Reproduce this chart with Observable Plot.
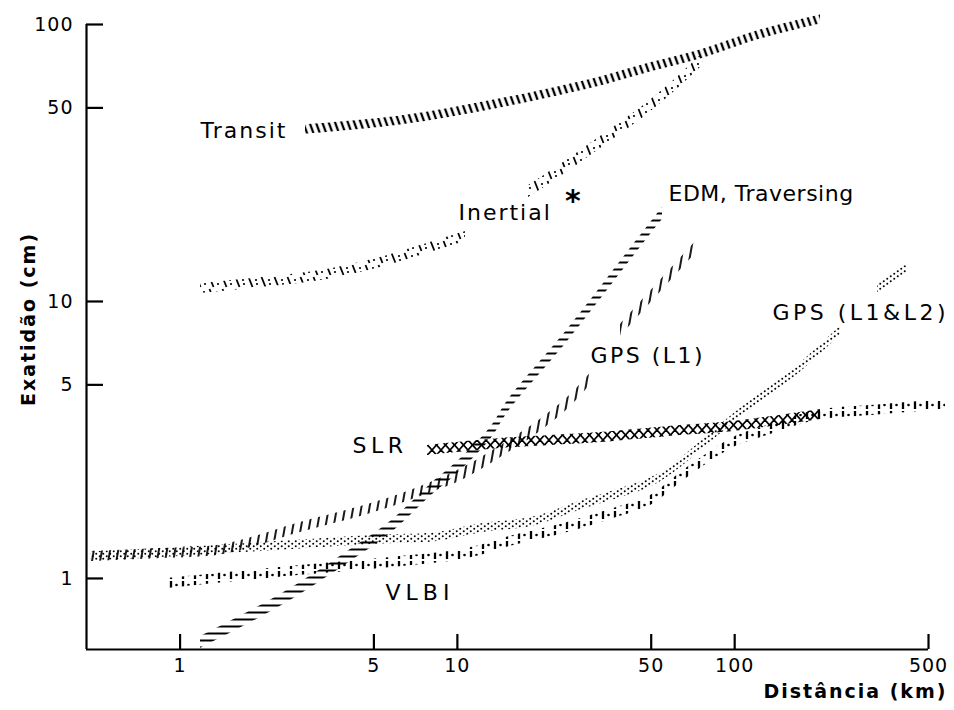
<!DOCTYPE html>
<html>
<head>
<meta charset="utf-8">
<script src="https://cdn.jsdelivr.net/npm/d3@7"></script>
<script src="https://cdn.jsdelivr.net/npm/@observablehq/plot@0.6"></script>
<style>
  body { margin: 0; background: #fff; }
  #chart svg text { letter-spacing: 1px; }
</style>
</head>
<body>
<div id="chart"></div>
<script>
// ---- axes ----
const xDomain = [0.4598, 585.4];
const yDomain = [0.554, 100];
const xTicks = [1, 5, 10, 50, 100, 500];
const yTicks = [1, 5, 10, 50, 100];

// ---- bands: distance (km), lower / upper accuracy (cm) ----
const transitDist = [2.833, 6.234, 14.30, 32.81, 49.71, 75.28, 123.9, 203.9];
const transitLo   = [40.2, 43.4, 50.0, 60.0, 67.4, 75.0, 88.6, 100.5];
const transitHi   = [43.4, 46.7, 53.9, 64.7, 72.7, 80.9, 95.5, 108.3];

const inertialDist = [1.185, 1.950, 3.209, 5.281, 7.360, 10.70, 17.89, 23.54, 32.81, 48.47, 63.75, 77.18];
const inertialLo   = [10.69, 11.23, 11.91, 13.27, 14.66, 16.47, 23.55, 28.26, 35.7, 47.4, 59.8, 71.7];
const inertialHi   = [11.61, 12.21, 12.94, 14.42, 15.93, 17.90, 26.0, 31.2, 39.4, 52.3, 66.0, 79.2];
const inertialSeg  = [0, 0, 0, 0, 0, 0, 1, 1, 1, 1, 1, 1];

const edmDist = [1.185, 2.302, 4.117, 5.737, 8.000, 10.01, 13.16, 15.29, 24.95, 43.16, 54.91];
const edmLo   = [0.559, 0.793, 1.152, 1.454, 1.979, 2.393, 3.176, 4.006, 7.174, 14.54, 19.79];
const edmHi   = [0.617, 0.875, 1.273, 1.606, 2.186, 2.643, 3.508, 4.425, 7.925, 16.06, 21.86];

const gpsL1Dist = [0.4598, 0.850, 1.434, 2.718, 4.984, 7.546, 10.52, 15.94, 19.45, 24.95, 30.96, 38.74, 48.47, 73.42];
const gpsL1Lo   = [1.151, 1.181, 1.221, 1.466, 1.727, 1.995, 2.277, 2.923, 3.340, 4.072, 5.138, 7.479, 9.59, 15.16];
const gpsL1Hi   = [1.251, 1.283, 1.327, 1.593, 1.876, 2.168, 2.515, 3.229, 3.689, 4.498, 5.675, 8.261, 10.59, 16.74];
const gpsL1Seg  = [0, 0, 0, 0, 0, 0, 0, 0, 0, 0, 0, 1, 1, 1];

const gpsL12Dist = [0.4752, 1.434, 2.718, 5.281, 8.203, 12.12, 18.81, 27.79, 49.71, 60.15, 99.0, 172.7, 240.7, 327.3, 420.1];
const gpsL12Lo   = [1.156, 1.226, 1.278, 1.332, 1.355, 1.460, 1.547, 1.767, 2.141, 2.404, 3.642, 5.568, 7.572, 10.73, 12.68];
const gpsL12Hi   = [1.246, 1.321, 1.377, 1.436, 1.459, 1.573, 1.667, 1.904, 2.306, 2.590, 3.924, 6.000, 8.159, 11.56, 13.66];
const gpsL12Seg  = [0, 0, 0, 0, 0, 0, 0, 0, 0, 0, 0, 0, 0, 1, 1];

const slrDist = [7.802, 14.30, 32.81, 63.75, 99.0, 203.9];
const slrLo   = [2.779, 2.945, 3.097, 3.281, 3.396, 3.751];
const slrHi   = [3.020, 3.200, 3.365, 3.565, 3.690, 4.076];

const vlbiDist = [0.9006, 2.718, 5.281, 10.87, 15.94, 24.95, 36.55, 49.71, 65.36, 99.0, 131.3, 198.9, 308.9, 575.8];
const vlbiLo   = [0.920, 1.026, 1.087, 1.181, 1.315, 1.466, 1.647, 1.835, 2.258, 2.971, 3.281, 3.722, 3.876, 4.077];
const vlbiHi   = [1.000, 1.114, 1.181, 1.283, 1.429, 1.593, 1.790, 1.994, 2.454, 3.228, 3.565, 4.045, 4.211, 4.430];

// ---- labels ----
const labelText = ["Transit", "Inertial", "EDM, Traversing", "GPS (L1)", "GPS (L1&L2)", "SLR", "VLBI"];
const labelDist = [1.185, 10.09, 57.72, 30.2, 136.9, 4.184, 5.505];
const labelAcc  = [41.4, 20.8, 24.5, 6.38, 9.12, 3.02, 0.890];
const starDist = [26.22];
const starAcc  = [24.1];
const yTitle = "Exatidão (cm)";
const xTitle = "Distância (km)";

// ---- styling (not data) ----
const labelSpacing = {"Transit": 2, "Inertial": 2, "EDM, Traversing": 0.5, "GPS (L1)": 2.5,
  "GPS (L1&L2)": 3.5, "SLR": 4.5, "VLBI": 5};

// ---- build tables ----
function rows(dist, lo, hi, seg) {
  return dist.map((d, i) => ({d, lo: lo[i], hi: hi[i], seg: seg ? seg[i] : 0}));
}
const bands = [
  {rows: rows(transitDist, transitLo, transitHi), pat: "pTransit"},
  {rows: rows(inertialDist, inertialLo, inertialHi, inertialSeg), pat: "pInertial"},
  {rows: rows(gpsL12Dist, gpsL12Lo, gpsL12Hi, gpsL12Seg), pat: "pDots"},
  {rows: rows(vlbiDist, vlbiLo, vlbiHi), pat: "pVlbi"},
  {rows: rows(gpsL1Dist, gpsL1Lo, gpsL1Hi, gpsL1Seg), pat: "pL1"},
  {rows: rows(edmDist, edmLo, edmHi), pat: "pEdm"},
  {rows: rows(slrDist, slrLo, slrHi), pat: "pSlr"}
];
const labels = labelText.map((t, i) => ({t, d: labelDist[i], a: labelAcc[i]}));
const stars = starDist.map((d, i) => ({d, a: starAcc[i]}));

const font = "DejaVu Sans";

const svg = Plot.plot({
  width: 954,
  height: 710,
  marginLeft: 86,
  marginRight: 7,
  marginTop: 24,
  marginBottom: 61,
  style: {background: "#fff", color: "#000", fontFamily: font, overflow: "visible"},
  x: {type: "log", domain: xDomain, axis: null},
  y: {type: "log", domain: yDomain, axis: null},
  marks: [
    ...bands.map(b => Plot.areaY(b.rows, {
      x: "d", y1: "lo", y2: "hi", z: "seg",
      fill: `url(#${b.pat})`, curve: "catmull-rom"
    })),
    // axis lines
    Plot.ruleY([yDomain[0]], {x1: xDomain[0], x2: xTicks[xTicks.length - 1], strokeWidth: 2.2}),
    Plot.ruleX([xDomain[0]], {y1: yDomain[0], y2: yTicks[yTicks.length - 1], strokeWidth: 2.2}),
    // inward ticks
    Plot.axisX({ticks: xTicks, anchor: "bottom", tickSize: 15, dy: -15,
      tickFormat: () => "", strokeWidth: 2.2, label: null}),
    Plot.axisY({ticks: yTicks, anchor: "left", tickSize: 17, dx: 17,
      tickFormat: () => "", strokeWidth: 2.2, label: null}),
    // tick labels
    Plot.text(xTicks, {x: d => d, frameAnchor: "bottom", dy: 22, textAnchor: "middle",
      text: d => String(d), fontSize: 19}),
    Plot.text(yTicks, {y: d => d, frameAnchor: "left", dx: -13, textAnchor: "end",
      text: d => String(d), fontSize: 19}),
    // titles
    Plot.text([yTitle], {text: d => d, frameAnchor: "left", textAnchor: "middle", rotate: -90,
      dx: -58, dy: -18, fontSize: 19, fontWeight: "bold"}),
    Plot.text([xTitle], {text: d => d, frameAnchor: "bottom-right", dx: 0, dy: 48,
      textAnchor: "end", fontSize: 19, fontWeight: "bold"}),
    // band labels
    Plot.text(labels, {x: "d", y: "a", text: "t", textAnchor: "start", fontSize: 22}),
    Plot.text(stars, {x: "d", y: "a", text: () => "*", fontSize: 30, fontWeight: "bold", dy: 6})
  ]
});

// hatch patterns
const defs = d3.select(svg).insert("defs", ":first-child");
function pat(id, w, h, rot) {
  const p = defs.append("pattern").attr("id", id)
    .attr("patternUnits", "userSpaceOnUse").attr("width", w).attr("height", h);
  if (rot) p.attr("patternTransform", `rotate(${rot})`);
  return p;
}
function line(p, x1, y1, x2, y2, sw) {
  p.append("line").attr("x1", x1).attr("y1", y1).attr("x2", x2).attr("y2", y2)
    .attr("stroke", "#000").attr("stroke-width", sw);
}
function dot(p, cx, cy, r) {
  p.append("circle").attr("cx", cx).attr("cy", cy).attr("r", r).attr("fill", "#000");
}
let p;
p = pat("pTransit", 6, 10, -20); line(p, 3, -1, 3, 11, 2.3);
p = pat("pInertial", 13, 12, 0); line(p, 1.5, 1, 5.5, 11, 1.8); dot(p, 9, 4, 1.1); dot(p, 10, 8, 1.1);
p = pat("pEdm", 10, 7, 0); line(p, -1, 3.5, 11, 3.5, 2);
p = pat("pL1", 8, 10, 10); line(p, 4, -1, 4, 11, 1.8);
p = pat("pDots", 7, 5, 0); dot(p, 1.75, 1.25, 1.0); dot(p, 5.25, 3.75, 1.0);
p = pat("pSlr", 9, 10, 0); line(p, 0, 0, 9, 10, 1.7); line(p, 0, 10, 9, 0, 1.7);
p = pat("pVlbi", 12, 10, 0); line(p, 3, 1, 3, 9, 2.3); dot(p, 8.5, 5, 1.3);

// letter spacing for labels and titles
d3.select(svg).selectAll("text").each(function() {
  const t = this.textContent;
  if (labelSpacing[t] != null) this.style.letterSpacing = labelSpacing[t] + "px";
  if (t === xTitle || t === yTitle) this.style.letterSpacing = "2px";
});

document.getElementById("chart").appendChild(svg);
</script>
</body>
</html>
